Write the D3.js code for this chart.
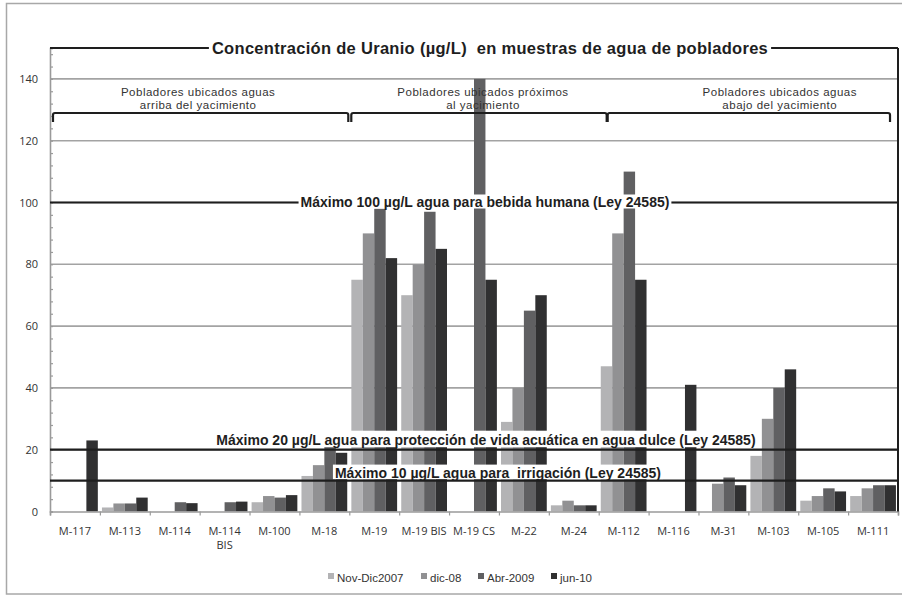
<!DOCTYPE html>
<html lang="es">
<head>
<meta charset="UTF-8">
<title>Concentración de Uranio</title>
<style>
    html, body { margin: 0; padding: 0; background: #fff; }
    svg { display: block; }
    .tick-lbl { font-family: "Open Sans", sans-serif; font-size: 11px; fill: #333; }
    .grp-lbl { font-family: "Liberation Sans", Arial, sans-serif; font-size: 11.5px; letter-spacing: 0.5px; fill: #333; }
    .lim-lbl { font-family: "Liberation Sans", Arial, sans-serif; font-size: 14px; font-weight: bold; fill: #1e1e1e; white-space: pre; }
    .title { font-family: "Liberation Sans", Arial, sans-serif; font-size: 16.5px; font-weight: bold; fill: #1e1e1e; white-space: pre; letter-spacing: 0.3px; }
    .legend text { font-family: "Liberation Sans", Arial, sans-serif; font-size: 11.5px; fill: #333; }
</style>
</head>
<body>
<svg width="902" height="596"></svg>
<script src="https://d3js.org/d3.v7.min.js"></script>
<script>
// categories (the \n splits the label in two lines)
const categories = ["M-117", "M-113", "M-114", "M-114\nBIS", "M-100", "M-18", "M-19", "M-19 BIS",
    "M-19 CS", "M-22", "M-24", "M-112", "M-116", "M-31", "M-103", "M-105", "M-111"];

const seriesNames = ["Nov-Dic2007", "dic-08", "Abr-2009", "jun-10"];

const novDic2007 = [0, 1.3, 0, 0, 3, 11.5, 75, 70, 0, 29, 2, 47, 0, 0, 18, 3.5, 5];
const dic08      = [0, 2.6, 0, 0, 5, 15, 90, 80, 0, 40, 3.5, 90, 0, 9, 30, 5, 7.5];
const abr2009    = [0, 2.6, 3, 3, 4.5, 21, 98, 97, 140, 65, 2, 110, 0, 11, 40, 7.5, 8.5];
const jun10      = [23, 4.5, 2.7, 3.2, 5.3, 19, 82, 85, 75, 70, 2, 75, 41, 8.5, 46, 6.5, 8.5];

const yTicks = [0, 20, 40, 60, 80, 100, 120, 140];

const limits = [100, 20, 10];
const limitLabels = [
    "Máximo 100 µg/L agua para bebida humana (Ley 24585)",
    "Máximo 20 µg/L agua para protección de vida acuática en agua dulce (Ley 24585)",
    "Máximo 10 µg/L agua para  irrigación (Ley 24585)"
];

const groupLabels = [
    ["Pobladores ubicados aguas", "arriba del yacimiento"],
    ["Pobladores ubicados próximos", "al yacimiento"],
    ["Pobladores ubicados aguas", "abajo del yacimiento"]
];

const title = "Concentración de Uranio (µg/L)  en muestras de agua de pobladores";

const colors = ["#b3b3b5", "#919193", "#606062", "#303031"];

// layout
const plotL = 50, plotR = 898, plotT = 48, plotB = 511.5;

const svg = d3.select("svg");

// outer frame
svg.append("rect")
    .attr("x", 6.5).attr("y", 3.5)
    .attr("width", 910).attr("height", 590.5)
    .attr("fill", "none").attr("stroke", "#a8a8a8").attr("stroke-width", 1.5);

const x0 = d3.scaleBand().domain(d3.range(categories.length)).range([plotL, plotR]);
const x1 = d3.scaleBand().domain(d3.range(seriesNames.length))
    .range([0, x0.bandwidth()]).paddingOuter(0.18);
const xUnits = d3.scaleLinear().domain([0, categories.length]).range([plotL, plotR]);
const y = d3.scaleLinear().domain([0, 150]).range([plotB, plotT]);

// gridlines
svg.append("g")
    .selectAll("line")
    .data(yTicks.filter(d => d > 0))
    .join("line")
    .attr("x1", plotL).attr("x2", plotR)
    .attr("y1", d => y(d)).attr("y2", d => y(d))
    .attr("stroke", "#a3a3a3").attr("stroke-width", 1.6);

// bars
const allSeries = [novDic2007, dic08, abr2009, jun10];
const grp = svg.append("g")
    .selectAll("g")
    .data(categories.map((c, i) => allSeries.map(s => s[i])))
    .join("g")
    .attr("transform", (d, i) => `translate(${x0(i)},0)`);

grp.selectAll("rect")
    .data(d => d)
    .join("rect")
    .attr("x", (d, j) => x1(j))
    .attr("width", x1.bandwidth())
    .attr("y", d => y(d))
    .attr("height", d => y(0) - y(d))
    .attr("fill", (d, j) => colors[j]);

// y axis (major labels + minor ticks every 4)
const yAxis = svg.append("g").attr("transform", `translate(${plotL},0)`)
    .call(d3.axisRight(y).tickValues(d3.range(0, 151, 4).concat([150])).tickSize(3).tickFormat(""));
yAxis.select(".domain").attr("stroke", "#9a9a9a").attr("stroke-width", 1.6);
yAxis.selectAll(".tick line").attr("stroke", "#9a9a9a").attr("stroke-width", 1.2);

svg.append("g")
    .selectAll("text")
    .data(yTicks)
    .join("text")
    .attr("class", "tick-lbl")
    .attr("x", 38).attr("y", d => y(d) + 4)
    .attr("text-anchor", "end")
    .text(d => d);

// x axis
const xAxis = svg.append("g").attr("transform", `translate(0,${plotB})`)
    .call(d3.axisBottom(xUnits).tickValues(d3.range(0, categories.length + 1)).tickSize(4).tickFormat(""));
xAxis.select(".domain").attr("stroke", "#9a9a9a").attr("stroke-width", 1.6);
xAxis.selectAll(".tick line").attr("stroke", "#9a9a9a").attr("stroke-width", 1.2);

const xl = svg.append("g")
    .selectAll("text")
    .data(categories)
    .join("text")
    .attr("class", "tick-lbl")
    .attr("text-anchor", "middle")
    .attr("transform", (d, i) => `translate(${x0(i) + x0.bandwidth() / 2},535)`);
xl.selectAll("tspan")
    .data(d => d.split("\n"))
    .join("tspan")
    .attr("x", 0).attr("dy", (d, k) => k === 0 ? 0 : 14)
    .text(d => d);

// limit lines with labels on white boxes
const limStyle = [
    { cx: 8.72, base: 4, boxTop: -8, boxBot: 6 },
    { cx: 8.74, base: -5, boxTop: -19, boxBot: -2.5 },
    { cx: 8.98, base: -3, boxTop: -16, boxBot: -1.5 }
];
const limG = svg.append("g");
limits.forEach((v, i) => {
    const st = limStyle[i];
    limG.append("line")
        .attr("x1", plotL).attr("x2", plotR)
        .attr("y1", y(v)).attr("y2", y(v))
        .attr("stroke", "#1e1e1e").attr("stroke-width", 2.2);
    const t = limG.append("text")
        .attr("class", "lim-lbl")
        .attr("x", xUnits(st.cx)).attr("y", y(v) + st.base)
        .attr("text-anchor", "middle")
        .text(limitLabels[i]);
    const bb = t.node().getBBox();
    limG.insert("rect", () => t.node())
        .attr("x", bb.x - 2).attr("width", bb.width + 4)
        .attr("y", y(v) + st.boxTop).attr("height", st.boxBot - st.boxTop)
        .attr("fill", "#fff");
});

// right frame line and top title line
svg.append("line")
    .attr("x1", plotR).attr("x2", plotR).attr("y1", plotT).attr("y2", plotB)
    .attr("stroke", "#1e1e1e").attr("stroke-width", 2);
svg.append("line")
    .attr("x1", plotL).attr("x2", plotR).attr("y1", plotT).attr("y2", plotT)
    .attr("stroke", "#1e1e1e").attr("stroke-width", 2.2);

const tt = svg.append("text")
    .attr("class", "title")
    .attr("x", 490).attr("y", 53.5)
    .attr("text-anchor", "middle")
    .text(title);
const tb = tt.node().getBBox();
svg.insert("rect", () => tt.node())
    .attr("x", tb.x - 3).attr("y", tb.y).attr("width", tb.width + 6).attr("height", tb.height)
    .attr("fill", "#fff");

// group brackets
const bracketSpans = [[0.06, 5.98], [6.04, 11.16], [11.18, 16.84]];
const labelCenters = [2.97, 8.68, 14.63];
svg.append("g")
    .selectAll("path")
    .data(bracketSpans)
    .join("path")
    .attr("d", d => {
        const a = xUnits(d[0]), b = xUnits(d[1]);
        return `M${a},122 L${a},115 Q${a},113 ${a + 2},113 L${b - 2},113 Q${b},113 ${b},115 L${b},122`;
    })
    .attr("fill", "none").attr("stroke", "#1e1e1e").attr("stroke-width", 2.2);

const gl = svg.append("g")
    .selectAll("text")
    .data(groupLabels)
    .join("text")
    .attr("class", "grp-lbl")
    .attr("text-anchor", "middle")
    .attr("transform", (d, i) => `translate(${xUnits(labelCenters[i])},96)`);
gl.selectAll("tspan")
    .data(d => d)
    .join("tspan")
    .attr("x", 0).attr("dy", (d, k) => k === 0 ? 0 : 12.5)
    .text(d => d);

// legend
const legendX = [328, 421, 478, 551];
const lg = svg.append("g").attr("class", "legend")
    .selectAll("g")
    .data(seriesNames)
    .join("g")
    .attr("transform", (d, i) => `translate(${legendX[i]},573)`);
lg.append("rect").attr("width", 6).attr("height", 6).attr("fill", (d, i) => colors[i]);
lg.append("text").attr("x", 9).attr("y", 8.5).text(d => d);
</script>
</body>
</html>
